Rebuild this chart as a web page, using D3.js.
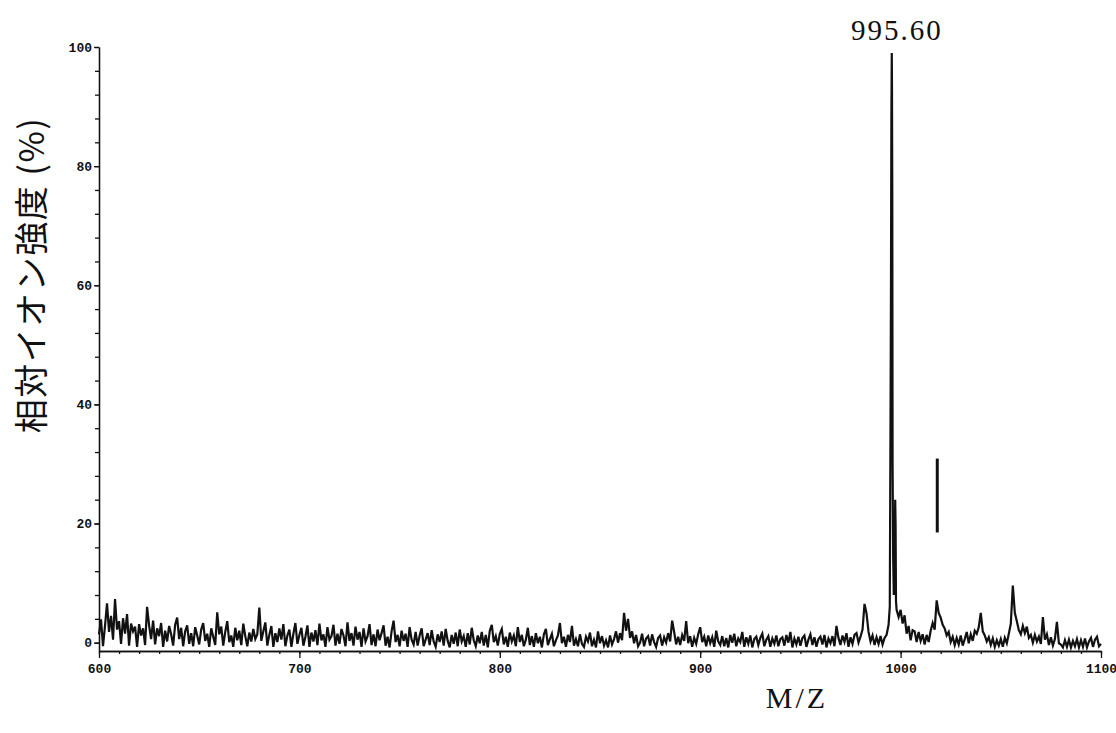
<!DOCTYPE html>
<html>
<head>
<meta charset="utf-8">
<script src="https://cdn.jsdelivr.net/npm/d3@7"></script>
<style>
  html, body { margin: 0; padding: 0; background: #fff; }
  svg { display: block; }
  .tick text { font-family: "Liberation Mono", "DejaVu Sans Mono", monospace; font-weight: bold; font-size: 13px; fill: #111; }
  .domain, .tick line { stroke: #111; stroke-width: 1.3; }
</style>
</head>
<body>
<svg id="chart" width="1116" height="733"></svg>
<script>
// Mass spectrum, relative ion intensity (%) versus m/z.
// Profile sampled once per m/z unit from 600 to 1100.
const scanStart = 600;
const scanStep = 1;
const scanIntensity = [
  1.4, 3.9, -0.6, 2.8, 6.6, 1.8, 4.5, 0.5, 7.3, 2.2,    // 600
  3.6, -0.2, 4.1, 1.5, 4.8, -0.5, 3.2, 1.9, 2.7, -0.7,  // 610
  3.1, 1.2, 2.4, -0.4, 6.0, 2.9, 0.6, 3.7, -0.3, 2.4,   // 620
  1.1, 3.3, -0.7, 2.0, 0.2, 2.8, 1.4, -0.5, 3.0, 4.2,   // 630
  0.6, 2.5, -0.6, 1.9, 2.9, -0.2, 1.6, -0.6, 2.6, 1.2,  // 640
  -0.3, 2.2, 3.3, 0.3, 1.5, -0.7, 2.4, 1.0, -0.4, 5.1,  // 650
  1.4, 2.7, -0.5, 1.8, 3.6, 0.1, 1.2, -0.7, 2.5, 0.4,   // 660
  2.0, -0.4, 3.2, 1.1, -0.6, 1.7, 0.2, 2.3, 0.6, 1.4,   // 670
  5.9, 0.3, 1.9, 3.4, -0.5, 1.3, 2.8, -0.7, 1.6, 0.1,   // 680
  2.4, 0.5, 3.1, -0.6, 1.2, 2.2, -0.7, 1.5, 3.3, -0.2,  // 690
  1.3, 2.5, -0.5, 1.0, 2.9, -0.7, 1.7, 0.2, 2.1, -0.4,  // 700
  3.2, 0.4, 1.4, -0.7, 2.6, 0.5, 1.1, 3.0, -0.5, 1.5,   // 710
  -0.2, 2.3, 1.2, -0.6, 3.4, 0.3, 1.6, -0.5, 2.7, 0.5,  // 720
  1.8, -0.7, 2.4, 0.2, 1.1, 3.1, -0.4, 1.4, -0.6, 2.2,  // 730
  0.4, 1.6, 2.9, -0.5, 1.0, -0.8, 1.9, 3.7, 0.1, 1.3,   // 740
  -0.6, 2.0, 0.3, 1.5, -0.7, 2.6, 0.5, -0.3, 1.8, -0.5, // 750
  1.2, 2.4, -0.6, 0.5, 1.6, -0.4, 2.1, 0.2, -0.7, 1.4,  // 760
  0.1, 1.9, -0.5, 2.3, 0.3, -0.8, 1.3, -0.2, 1.7, -0.6, // 770
  2.2, 0.2, 1.1, -0.7, 1.6, -0.3, 2.5, 0.4, -0.6, 1.2,  // 780
  -0.1, 1.8, -0.5, 1.3, -0.8, 2.0, 3.0, 0.1, 1.1, -0.5, // 790
  1.5, 2.3, -0.3, 1.0, -0.7, 1.7, 0.2, 1.2, -0.6, 2.6,  // 800
  0.1, 1.3, -0.6, 0.5, 2.5, -0.4, 1.1, -0.7, 1.6, -0.1, // 810
  1.0, -0.8, 1.4, 2.3, -0.4, 0.6, 1.5, -0.6, 0.4, 1.2,  // 820
  3.3, -0.1, 1.0, -0.7, 1.3, 0.1, 2.8, -0.5, 0.6, -0.6, // 830
  1.4, -0.2, -0.7, 1.0, 0.2, 1.7, -0.6, 0.5, -0.8, 1.9, // 840
  -0.1, 1.1, -0.5, 0.4, -0.8, 1.2, -0.3, 0.6, 1.9, 0.0, // 850
  1.6, 0.4, 5.0, 2.0, 4.0, 0.8, 1.9, -0.1, 1.3, -0.6,   // 860
  0.0, 1.5, -0.6, 0.7, 1.1, -0.5, 1.4, 0.1, -0.7, 0.8,  // 870
  1.2, -0.5, 0.9, 0.0, 1.6, 0.2, 3.7, 1.8, -0.3, 1.0,   // 880
  -0.4, 1.3, 0.3, 3.6, -0.1, 1.1, -0.7, 0.8, -0.2, 1.4, // 890
  2.6, 0.1, 1.0, -0.6, 1.2, -0.1, 0.9, -0.7, 2.0, 0.2,  // 900
  -0.4, 1.1, -0.6, 0.8, -0.8, 1.3, 0.0, 1.5, -0.6, 0.7, // 910
  0.1, 1.8, -0.7, 0.9, -0.2, 1.2, -0.8, 0.6, 1.0, -0.4, // 920
  0.8, 1.5, -0.6, 0.5, 1.1, -0.7, 0.7, -0.2, 1.2, -0.6, // 930
  0.6, 0.9, -0.5, 1.3, 0.0, 1.8, -0.8, 0.7, -0.3, 1.0,  // 940
  -0.5, 0.8, 1.2, -0.7, 0.5, 1.4, -0.4, 0.9, -0.7, 0.6, // 950
  1.0, -0.3, 1.3, -0.8, 0.7, -0.1, 1.1, -0.6, 2.8, 0.8, // 960
  -0.4, 1.2, 0.1, 1.6, -0.7, 0.9, -0.2, 1.3, 1.6, 0.0,  // 970
  1.0, 2.2, 6.5, 4.9, 1.8, 0.2, 1.2, -0.4, 0.9, -0.2,   // 980
  1.1, -0.3, 0.8, 1.3, 3.0, 40.0, 30.0, 12.0, 5.5, 4.3, // 990
  5.5, 3.2, 4.6, 1.5, 2.8, 0.4, 2.1, 1.9, 0.1, 1.8,     // 1000
  0.3, 1.4, -0.3, 1.3, 0.1, 2.0, 3.3, 2.2, 7.1, 5.0,    // 1010
  4.2, 3.0, 2.4, 1.2, 1.8, 0.1, 1.0, -0.4, 0.8, -0.3,   // 1020
  1.2, -0.5, 0.6, 1.8, -0.1, 1.4, 0.3, 2.0, 1.5, 2.6,   // 1030
  5.0, 1.9, 1.2, 0.2, 0.9, -0.4, 0.7, -0.7, 0.4, -0.5,  // 1040
  0.6, -0.7, 0.8, -0.1, 1.5, 3.2, 9.6, 5.0, 3.6, 2.1,   // 1050
  1.4, 2.8, 1.6, 2.7, 0.8, 1.3, 0.0, 1.3, 0.2, 1.0,     // 1060
  -0.2, 4.3, 0.5, 1.4, -0.4, 0.9, -0.5, 0.6, 3.5, -0.1, // 1070
  -0.3, -0.8, 0.4, -0.7, 0.5, -0.8, 0.3, -0.6, 0.6, -0.8, // 1080
  0.4, -0.7, 0.7, -0.8, 0.2, 0.8, -0.7, 0.5, 1.0, -0.6,   // 1090
  -0.2                                                    // 1100
];

// Finer sampling across the base peak.
const peakMz = [994.6, 995.2, 995.4, 995.6, 995.7, 995.85, 996.3, 996.6, 997.3, 997.5, 997.7];
const peakIntensity = [6, 60, 88, 99, 93, 75, 14, 8, 24, 20, 7];

// Base peak annotation.
const basePeakMz = 995.60;
const basePeakLabel = "995.60";

// Isolated marker bar drawn above the 1018 cluster.
const markerMz = 1018.3;
const markerRange = [18.5, 30.9];

// Axis ticks.
const xMajorTicks = [600, 700, 800, 900, 1000, 1100];
const xMinorTicks = d3.range(600, 1101, 10);
const yMajorTicks = [0, 20, 40, 60, 80, 100];
const yMinorTicks = d3.range(0, 101, 4);

const xTitle = "M/Z";
const yTitle = "相対イオン強度 (%)";

// Merge the unit-spaced profile with the finer peak samples.
const profile = scanIntensity.map((v, i) => ({ mz: scanStart + i * scanStep, v }))
  .concat(peakMz.map((m, i) => ({ mz: m, v: peakIntensity[i] })))
  .sort((a, b) => a.mz - b.mz);

const svg = d3.select("#chart");

const x = d3.scaleLinear().domain([600, 1100]).range([99, 1101]);
const y = d3.scaleLinear().domain([-1.4, 100]).range([651, 47]);

// Axes
svg.append("g")
  .attr("transform", `translate(0,${y(-1.4)})`)
  .call(d3.axisBottom(x).tickValues(xMinorTicks).tickSize(3).tickSizeOuter(0).tickFormat(""));
svg.append("g")
  .attr("transform", `translate(0,${y(-1.4)})`)
  .call(d3.axisBottom(x).tickValues(xMajorTicks).tickSize(7).tickPadding(6).tickSizeOuter(0).tickFormat(d3.format("d")));

svg.append("g")
  .attr("transform", `translate(${x(600)},0)`)
  .call(d3.axisLeft(y).tickValues(yMinorTicks).tickSize(4).tickSizeOuter(0).tickFormat(""));
svg.append("g")
  .attr("transform", `translate(${x(600)},0)`)
  .call(d3.axisLeft(y).tickValues(yMajorTicks).tickSize(5).tickPadding(2).tickSizeOuter(0).tickFormat(d3.format("d")));

// Spectrum trace
const line = d3.line().x(d => x(d.mz)).y(d => y(d.v));
svg.append("path")
  .datum(profile)
  .attr("d", line)
  .attr("fill", "none")
  .attr("stroke", "#111")
  .attr("stroke-width", 2.2)
  .attr("stroke-linejoin", "miter");

// Marker bar
svg.append("line")
  .attr("x1", x(markerMz)).attr("x2", x(markerMz))
  .attr("y1", y(markerRange[0])).attr("y2", y(markerRange[1]))
  .attr("stroke", "#111")
  .attr("stroke-width", 3);

// Base peak label
svg.append("text")
  .attr("x", x(basePeakMz) + 5)
  .attr("y", 40)
  .attr("text-anchor", "middle")
  .attr("font-family", "Liberation Serif, serif")
  .attr("font-size", 29)
  .attr("letter-spacing", 2)
  .attr("fill", "#111")
  .text(basePeakLabel);

// Axis titles
svg.append("text")
  .attr("x", 797)
  .attr("y", 708)
  .attr("text-anchor", "middle")
  .attr("font-family", "Liberation Serif, serif")
  .attr("font-size", 30)
  .attr("letter-spacing", 3)
  .attr("fill", "#111")
  .text(xTitle);

svg.append("text")
  .attr("transform", "translate(44,275) rotate(-90)")
  .attr("text-anchor", "middle")
  .attr("font-family", "Noto Sans CJK JP, sans-serif")
  .attr("font-size", 34)
  .attr("letter-spacing", 1.5)
  .attr("fill", "#111")
  .text(yTitle);
</script>
</body>
</html>
